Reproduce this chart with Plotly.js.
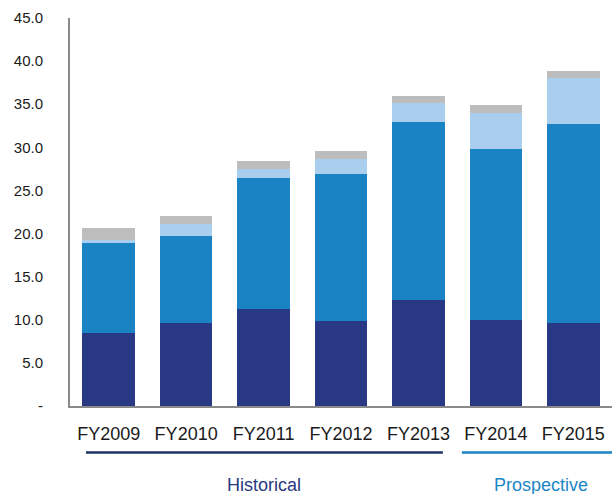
<!DOCTYPE html>
<html>
<head>
<meta charset="utf-8">
<script src="https://cdn.plot.ly/plotly-3.0.1.min.js"></script>
<style>html,body{margin:0;padding:0;background:#fff;}#chart{width:612px;height:494px;}</style>
</head>
<body>
<div id="chart"></div>
<script>
const years = ["FY2009","FY2010","FY2011","FY2012","FY2013","FY2014","FY2015"];
const seriesDark  = [8.5, 9.6, 11.25, 9.85, 12.3, 10.0, 9.65];
const seriesMid   = [10.45, 10.1, 15.2, 17.05, 20.65, 19.8, 23.05];
const seriesLight = [0.35, 1.4, 1.05, 1.75, 2.2, 4.2, 5.35];
const seriesGrey  = [1.35, 0.95, 0.95, 0.95, 0.8, 0.9, 0.8];
const yTickVals = [0, 5, 10, 15, 20, 25, 30, 35, 40, 45];
const yTickText = ["-", "5.0", "10.0", "15.0", "20.0", "25.0", "30.0", "35.0", "40.0", "45.0"];
const groupLabels = ["Historical", "Prospective"];

const colors = ["#293885", "#1a83c3", "#aacfee", "#bdbdbd"];
const allSeries = [seriesDark, seriesMid, seriesLight, seriesGrey];
const traces = allSeries.map((vals, i) => ({
  type: "bar",
  x: years,
  y: vals,
  width: 0.68,
  marker: {color: colors[i], line: {width: 0}},
  hoverinfo: "skip"
}));

const layout = {
  width: 612,
  height: 494,
  margin: {l: 70, r: 0, t: 18, b: 88},
  paper_bgcolor: "#ffffff",
  plot_bgcolor: "#ffffff",
  barmode: "stack",
  showlegend: false,
  font: {family: "Liberation Sans, Arial, sans-serif", color: "#1a1a1a"},
  xaxis: {
    type: "category",
    range: [-0.5, 6.5],
    showline: true,
    linecolor: "#8a8a8a",
    linewidth: 2,
    ticks: "",
    showgrid: false,
    zeroline: false,
    tickfont: {size: 18, color: "#1a1a1a"},
    ticklabelstandoff: 10
  },
  yaxis: {
    range: [0, 45],
    tickvals: yTickVals,
    ticktext: yTickText,
    showline: true,
    linecolor: "#8a8a8a",
    linewidth: 2,
    ticks: "",
    showgrid: false,
    zeroline: false,
    tickfont: {size: 15, color: "#1a1a1a"},
    ticklabelstandoff: 22
  },
  shapes: [
    {type: "line", xref: "paper", yref: "paper", x0: 0.0295, x1: 0.688, y0: -0.12, y1: -0.12,
     line: {color: "#1f3466", width: 2.5}},
    {type: "line", xref: "paper", yref: "paper", x0: 0.723, x1: 1.0, y0: -0.12, y1: -0.12,
     line: {color: "#1a83c3", width: 2.5}}
  ],
  annotations: [
    {text: groupLabels[0], xref: "paper", yref: "paper", x: 0.358, y: -0.204, showarrow: false,
     xanchor: "center", yanchor: "middle", font: {size: 18, color: "#283a80"}},
    {text: groupLabels[1], xref: "paper", yref: "paper", x: 0.869, y: -0.204, showarrow: false,
     xanchor: "center", yanchor: "middle", font: {size: 18, color: "#1c86c6"}}
  ]
};

Plotly.newPlot("chart", traces, layout, {staticPlot: true, displayModeBar: false});
</script>
</body>
</html>
